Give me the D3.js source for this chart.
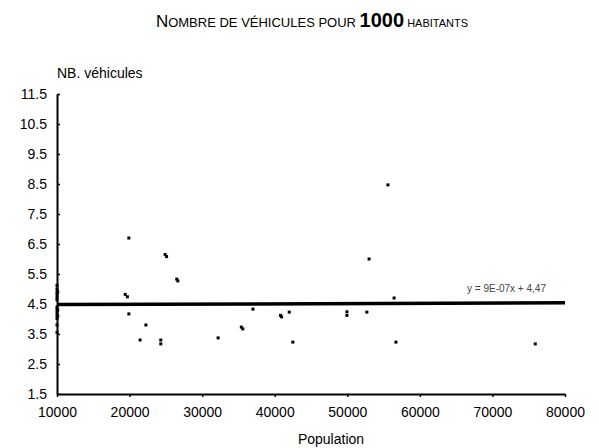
<!DOCTYPE html>
<html>
<head>
<meta charset="utf-8">
<script src="https://cdn.jsdelivr.net/npm/d3@7"></script>
<style>
  body { margin: 0; background: #fff; }
  text { font-family: "Liberation Sans", Arial, sans-serif; fill: #000; }
</style>
</head>
<body>
<script>
var w = 599,
    h = 448;

// y axis ticks (values and labels)
var yTicks = [1.5, 2.5, 3.5, 4.5, 5.5, 6.5, 7.5, 8.5, 9.5, 10.5, 11.5];
var xTicks = [10000, 20000, 30000, 40000, 50000, 60000, 70000, 80000];

// communes of ~10000 inhabitants (vertical cluster at the left)
var clusterPop = [10000, 10000, 10000, 10000, 10000, 10000, 10000, 10000, 10000, 10000, 10000, 10000, 10000, 10100, 10100, 10100];
var clusterVal = [5.12, 5.0, 4.9, 4.82, 4.72, 4.64, 4.4, 4.32, 4.22, 4.12, 4.02, 3.8, 3.55, 4.9, 4.3, 4.1];

// scattered communes
var outPop = [19900, 24900, 25100, 26500, 26650, 19400, 19700, 19900, 22250, 21450, 24300, 24300, 32200, 35400, 35600, 37000, 40800, 40950, 42000, 42500, 49950, 49950, 53000, 52700, 55600, 56450, 56700, 75900];
var outVal = [6.7, 6.15, 6.08, 5.33, 5.27, 4.82, 4.74, 4.17, 3.8, 3.3, 3.3, 3.17, 3.37, 3.73, 3.67, 4.33, 4.12, 4.07, 4.23, 3.23, 4.12, 4.24, 6.0, 4.23, 8.47, 4.7, 3.23, 3.17];

// trend line (linear fit)
var trendPop = [10000, 80000];
var trendVal = [4.48, 4.54];
var trendLabel = "y = 9E-07x + 4,47";

var svgo = d3.select("body").append("svg")
    .attr("width", w)
    .attr("height", h);

var x = d3.scaleLinear().domain([10000, 80000]).range([57, 565]);
var y = d3.scaleLinear().domain([1.5, 11.5]).range([394, 94]);

// title
var title = svgo.append("text")
    .attr("x", 312)
    .attr("y", 27)
    .attr("text-anchor", "middle");
title.append("tspan").text("N").style("font-size", "17px");
title.append("tspan").text("OMBRE DE VÉHICULES POUR ").style("font-size", "13px");
title.append("tspan").text("1000").style("font-size", "20px").style("font-weight", "bold");
title.append("tspan").text(" HABITANTS").style("font-size", "11px");

// axes
var yAxis = d3.axisLeft(y)
    .tickValues(yTicks)
    .tickFormat(d3.format(".1f"))
    .tickSizeInner(-3)
    .tickSizeOuter(0)
    .tickPadding(10);

var xAxis = d3.axisBottom(x)
    .tickValues(xTicks)
    .tickFormat(d3.format("d"))
    .tickSizeInner(3)
    .tickSizeOuter(0)
    .tickPadding(10);

var gy = svgo.append("g")
    .attr("transform", "translate(" + x(10000) + ",0)")
    .call(yAxis);
var gx = svgo.append("g")
    .attr("transform", "translate(0," + y(1.5) + ")")
    .call(xAxis);

[gx, gy].forEach(function(g)
{
	g.select(".domain").style("stroke", "#000").style("stroke-width", "2px");
	g.selectAll(".tick line").style("stroke", "#000").style("stroke-width", "1.5px");
	g.selectAll(".tick text")
		.style("font-size", "14px")
		.style("font-family", "'Liberation Sans', Arial, sans-serif")
		.style("fill", "#000");
});

svgo.append("text")
    .text("NB. véhicules")
    .attr("x", 57)
    .attr("y", 78)
    .style("font-size", "14px");

svgo.append("text")
    .text("Population")
    .attr("x", 331)
    .attr("y", 444)
    .attr("text-anchor", "middle")
    .style("font-size", "14px");

// trend line
var trend = trendPop.map(function(p, i) { return [p, trendVal[i]]; });
svgo.append("path")
    .datum(trend)
    .attr("d", d3.line().x(function(d) { return x(d[0]); }).y(function(d) { return y(d[1]); }))
    .style("fill", "none")
    .style("stroke", "#000")
    .style("stroke-width", "3.5px");

svgo.append("text")
    .text(trendLabel)
    .attr("x", 467)
    .attr("y", 292)
    .style("font-size", "10px")
    .style("fill", "#444");

// points
var pts = clusterPop.map(function(p, i) { return [p, clusterVal[i]]; })
    .concat(outPop.map(function(p, i) { return [p, outVal[i]]; }));

svgo.selectAll("rect.pt").data(pts).enter().append("rect")
    .attr("class", "pt")
    .attr("x", function(d) { return x(d[0]) - 1.5; })
    .attr("y", function(d) { return y(d[1]) - 1.5; })
    .attr("width", 3)
    .attr("height", 3)
    .style("fill", "#000");
</script>
</body>
</html>
